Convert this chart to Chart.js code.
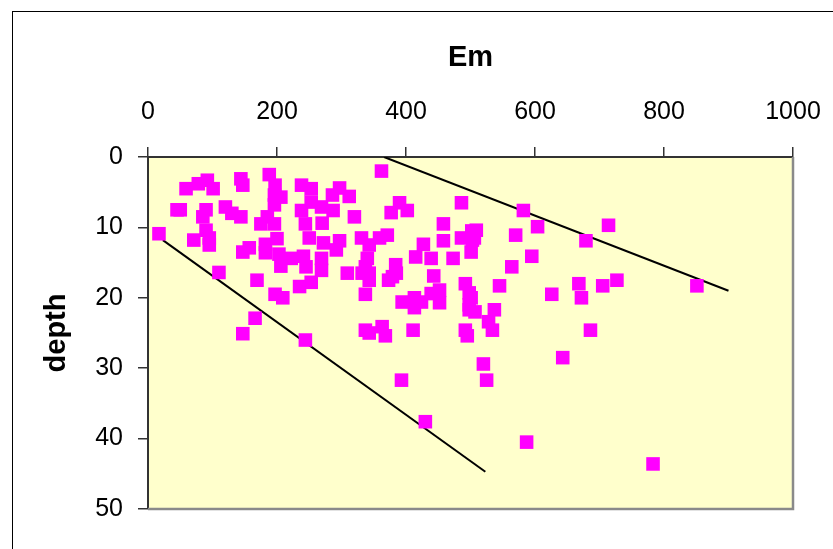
<!DOCTYPE html>
<html>
<head>
<meta charset="utf-8">
<script src="https://cdn.jsdelivr.net/npm/chart.js@4"></script>
<style>
  html, body { margin: 0; padding: 0; background: #fff; overflow: hidden; }
  #frame { position: absolute; left: 12px; top: 11px; width: 1000px; height: 1000px;
           border-left: 1.5px solid #000; border-top: 1.5px solid #000; }
  #wrap { position: absolute; left: 0; top: 0; width: 833px; height: 549px; }
</style>
</head>
<body>
<div id="frame"></div>
<div id="wrap"><canvas id="chart" width="833" height="549"></canvas></div>
<script>
// Em vs depth
const emValues = [
  17, 45, 50, 59, 78, 92, 101, 90, 85, 90, 95, 95, 71, 110, 120, 130, 144, 144, 147, 147,
  157, 169, 197, 209, 166, 147, 244, 393, 430, 587, 783, 686, 643, 520, 525, 337, 343, 363, 368, 411,
  492, 495, 528, 534, 537, 498, 507, 188, 197, 196, 206, 196, 238, 253, 286, 297, 312, 253, 238, 269,
  287, 320, 185, 175, 196, 244, 270, 250, 272, 297, 292, 182, 200, 182, 203, 222, 206, 241, 245, 269,
  269, 309, 362, 390, 377, 402, 486, 458, 458, 486, 502, 501, 503, 331, 343, 359, 371, 340, 337, 343,
  384, 379, 415, 427, 439, 473, 443, 582, 604, 679, 570, 509, 506, 595, 564, 545, 492, 498, 501, 626,
  668, 672, 705, 727, 851, 714, 253, 235, 332, 343, 337, 373, 385, 394, 413, 413, 424, 439, 452, 452,
  498
];
const depthValues = [
  10.9, 7.5, 7.5, 4.5, 3.8, 3.3, 4.5, 7.5, 8.5, 10.4, 11.5, 12.5, 11.8, 16.4, 7.1, 8.0, 8.5, 3.1, 4.0, 13.5,
  12.9, 17.5, 19.5, 20.0, 22.9, 25.1, 26.0, 31.7, 37.6, 40.5, 43.6, 24.6, 28.5, 29.4, 31.7, 24.6, 25.0, 24.1, 25.4, 24.6,
  24.6, 25.4, 23.4, 24.6, 21.7, 21.7, 22.0, 2.5, 4.0, 5.4, 5.7, 6.8, 4.0, 4.5, 5.4, 4.4, 5.6, 6.4, 7.6, 7.1,
  7.6, 8.5, 8.5, 9.5, 9.5, 9.5, 9.4, 11.5, 12.2, 11.9, 13.2, 12.4, 11.6, 13.6, 13.8, 14.4, 15.5, 14.1, 15.6, 14.4,
  16.1, 16.5, 2.0, 6.5, 7.9, 7.6, 6.5, 9.5, 11.9, 11.5, 10.5, 13.5, 11.8, 11.5, 12.5, 11.5, 11.1, 14.4, 15.6, 16.5,
  15.3, 17.0, 14.2, 12.4, 14.4, 14.4, 16.9, 7.6, 9.9, 11.9, 11.1, 10.4, 11.5, 14.1, 15.6, 18.3, 18.0, 19.3, 20.0, 19.5,
  18.0, 20.0, 18.3, 17.5, 18.3, 9.7, 17.8, 18.4, 16.5, 17.5, 19.5, 17.5, 16.5, 20.6, 20.0, 21.4, 20.6, 19.4, 18.9, 20.7,
  21.0
];

// the two boundary lines (start, end)
const upperLineEm = [366, 900];
const upperLineDepth = [0, 19];
const lowerLineEm = [23, 523];
const lowerLineDepth = [11.8, 44.7];

const xTicks = [0, 200, 400, 600, 800, 1000];
const yTicks = [0, 10, 20, 30, 40, 50];

const points = emValues.map((x, i) => ({ x: x, y: depthValues[i] }));
const upperLine = upperLineEm.map((x, i) => ({ x: x, y: upperLineDepth[i] }));
const lowerLine = lowerLineEm.map((x, i) => ({ x: x, y: lowerLineDepth[i] }));

const FONT = "'Liberation Sans', Arial, sans-serif";

const plotBox = {
  id: 'plotBox',
  beforeDraw(chart) {
    const { ctx, chartArea: a } = chart;
    ctx.save();
    ctx.fillStyle = '#FFFFCC';
    ctx.fillRect(a.left, a.top, a.right - a.left, a.bottom - a.top);
    ctx.restore();
  },
  afterDraw(chart) {
    const { ctx, chartArea: a } = chart;
    ctx.save();
    ctx.strokeStyle = '#8a8a8a';
    ctx.lineWidth = 2.5;
    ctx.beginPath();
    ctx.moveTo(a.right, a.top);
    ctx.lineTo(a.right, a.bottom);
    ctx.lineTo(a.left, a.bottom);
    ctx.stroke();
    ctx.restore();
  }
};

new Chart(document.getElementById('chart'), {
  type: 'scatter',
  data: {
    datasets: [
      {
        label: 'Em',
        data: points,
        pointStyle: 'rect',
        pointRadius: 9.6,
        pointBackgroundColor: '#FF00FF',
        pointBorderWidth: 0,
        borderWidth: 0
      },
      {
        label: 'upper',
        data: upperLine,
        showLine: true,
        borderColor: '#000',
        borderWidth: 2,
        pointRadius: 0
      },
      {
        label: 'lower',
        data: lowerLine,
        showLine: true,
        borderColor: '#000',
        borderWidth: 2,
        pointRadius: 0
      }
    ]
  },
  options: {
    responsive: false,
    animation: false,
    events: [],
    layout: { padding: { left: 0, top: 0, right: 40, bottom: 40 } },
    plugins: { legend: { display: false }, tooltip: { enabled: false } },
    scales: {
      x: {
        type: 'linear',
        position: 'top',
        min: 0, max: 1000,
        afterBuildTicks: s => { s.ticks = xTicks.map(v => ({ value: v })); },
        afterFit: s => { s.height = 157; s.paddingLeft = 0; s.paddingRight = 0; },
        ticks: { color: '#000', font: { family: FONT, size: 25 }, padding: 20, maxRotation: 0,
                 callback: v => String(v) },
        grid: { drawOnChartArea: false, tickLength: 10, color: '#333', lineWidth: 1.5 },
        border: { display: true, color: '#333', width: 2 },
        title: { display: true, text: 'Em', color: '#000',
                 font: { family: FONT, size: 29, weight: 'bold' }, padding: { top: 41, bottom: 0 } }
      },
      y: {
        type: 'linear',
        reverse: true,
        min: 0, max: 50,
        afterBuildTicks: s => { s.ticks = yTicks.map(v => ({ value: v })); },
        afterFit: s => { s.width = 148; s.paddingTop = 0; s.paddingBottom = 0; },
        ticks: { color: '#000', font: { family: FONT, size: 25 }, padding: 15,
                 callback: v => String(v) },
        grid: { drawOnChartArea: false, tickLength: 10, color: '#333', lineWidth: 1.5 },
        border: { display: true, color: '#333', width: 2 },
        title: { display: true, text: 'depth', color: '#000',
                 font: { family: FONT, size: 29, weight: 'bold' }, padding: { top: 40, bottom: 0 } }
      }
    }
  },
  plugins: [plotBox]
});
</script>
</body>
</html>
